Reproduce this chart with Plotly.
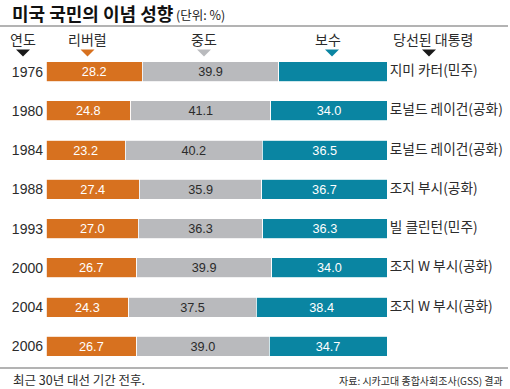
import plotly.graph_objects as go

years = ["1976", "1980", "1984", "1988", "1993", "2000", "2004", "2006"]
liberal = [28.2, 24.8, 23.2, 27.4, 27.0, 26.7, 24.3, 26.7]
moderate = [39.9, 41.1, 40.2, 35.9, 36.3, 39.9, 37.5, 39.0]
conservative = [31.7, 34.0, 36.5, 36.7, 36.3, 34.0, 38.4, 34.7]
presidents = ["지미 카터(민주)", "로널드 레이건(공화)", "로널드 레이건(공화)", "조지 부시(공화)",
              "빌 클린턴(민주)", "조지 W 부시(공화)", "조지 W 부시(공화)", ""]

W, H = 510, 389
L, R, T, B = 46, 123, 52, 23
PW, PH = W - L - R, H - T - B

def px(x):
    return (x - L) / PW

def py(y):
    return (H - B - y) / PH

ORANGE = "#d7711f"
GRAY = "#b9babd"
TEAL = "#0a85a2"
DARK = "#2b2b2b"
KR = "Noto Sans CJK KR"
NUM = "Liberation Sans"

fig = go.Figure()
for name, vals, col, tcol in [("리버럴", liberal, ORANGE, "white"),
                              ("중도", moderate, GRAY, DARK),
                              ("보수", conservative, TEAL, "white")]:
    fig.add_trace(go.Bar(
        y=years, x=vals, name=name, orientation="h",
        marker=dict(color=col, line=dict(color="white", width=0.8)),
        text=[f"{v:.1f}" for v in vals], textposition="inside",
        insidetextanchor="middle", textangle=0,
        textfont=dict(family=NUM, size=14.5, color=tcol),
        hovertemplate="%{y} " + name + ": %{text}<extra></extra>",
    ))

# President labels, placed just right of the (normalised) bar ends
fig.add_trace(go.Scatter(
    y=years, x=[100] * len(years), mode="text", text=presidents,
    texttemplate="\u2009%{text}",
    textposition="middle right", cliponaxis=False, hoverinfo="skip",
    textfont=dict(family=KR, size=13.7, color=DARK),
))

annotations = []
annotations.append(dict(x=px(10), y=py(13), xref="paper", yref="paper",
                        text="<b>미국 국민의 이념 성향</b>", xanchor="left", yanchor="middle",
                        showarrow=False, font=dict(family=KR, size=18, color="#111")))
annotations.append(dict(x=px(174), y=py(15), xref="paper", yref="paper",
                        text="(단위: %)", xanchor="left", yanchor="middle",
                        showarrow=False, font=dict(family=KR, size=12.5, color="#222")))

headers = [("연도", 23), ("리버럴", 87), ("중도", 204), ("보수", 328), ("당선된 대통령", 433)]
tri_x = [23, 87.5, 204, 332, 429]
tri_col = ["#1a1a1a", ORANGE, GRAY, TEAL, "#1a1a1a"]
shapes = []
for (txt, cx), tx, tcol in zip(headers, tri_x, tri_col):
    annotations.append(dict(x=px(cx), y=py(38.5), xref="paper", yref="paper", text=txt,
                            xanchor="center", yanchor="middle", showarrow=False,
                            font=dict(family=KR, size=14, color=DARK)))
    x0, x1, xm = px(tx - 7), px(tx + 7), px(tx)
    y0, y1 = py(49.5), py(56.5)
    shapes.append(dict(type="path", xref="paper", yref="paper",
                       path=f"M {x0:.5f} {y0:.5f} L {x1:.5f} {y0:.5f} L {xm:.5f} {y1:.5f} Z",
                       fillcolor=tcol, line=dict(width=0)))

for yy in (26, 368):
    shapes.append(dict(type="line", xref="paper", yref="paper",
                       x0=px(0), x1=px(508), y0=py(yy), y1=py(yy),
                       line=dict(color="#9a9a9a", width=1.5)))

annotations.append(dict(x=px(11), y=py(379.5), xref="paper", yref="paper",
                        text="최근 30년 대선 기간 전후.", xanchor="left", yanchor="middle",
                        showarrow=False, font=dict(family=KR, size=12.5, color=DARK)))
annotations.append(dict(x=px(505), y=py(380), xref="paper", yref="paper",
                        text="자료: 시카고대 종합사회조사(GSS) 결과", xanchor="right", yanchor="middle",
                        showarrow=False, font=dict(family=KR, size=10, color=DARK)))

fig.update_layout(
    width=W, height=H, margin=dict(l=L, r=R, t=T, b=B),
    barmode="stack", barnorm="percent", bargap=0.49,
    showlegend=False, plot_bgcolor="white", paper_bgcolor="white",
    xaxis=dict(range=[0, 100], visible=False),
    yaxis=dict(type="category", categoryorder="array", categoryarray=years,
               autorange="reversed", showgrid=False, zeroline=False, showline=False,
               ticks="", ticklabelstandoff=2,
               tickfont=dict(family=NUM, size=14, color=DARK)),
    annotations=annotations, shapes=shapes,
)

fig.write_html("out.html", config={"displayModeBar": False},
               post_script="document.body.style.margin='0';document.body.style.overflow='hidden';")
